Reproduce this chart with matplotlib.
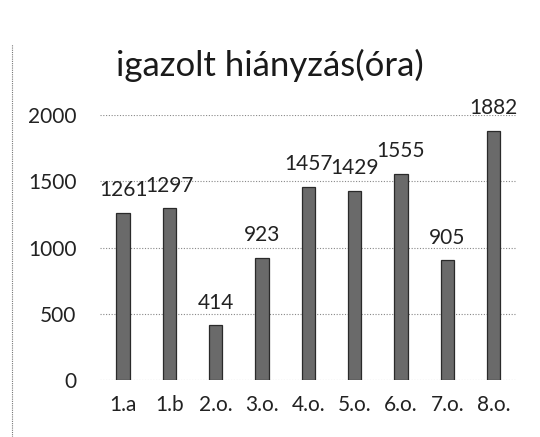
import matplotlib
matplotlib.use("Agg")
import matplotlib.pyplot as plt
from matplotlib.lines import Line2D

categories = ["1.a", "1.b", "2.o.", "3.o.", "4.o.", "5.o.", "6.o.", "7.o.", "8.o."]
values = [1261, 1297, 414, 923, 1457, 1429, 1555, 905, 1882]
yticks = [0, 500, 1000, 1500, 2000]
title = "igazolt hiányzás(óra)"

plt.rcParams['font.family'] = ['Lato', 'DejaVu Sans']

fig = plt.figure(figsize=(5.4, 4.37), dpi=100)
ax = fig.add_axes([0.185, 0.1304, 0.772, 0.6064])

x = range(len(categories))
ax.bar(x, values, width=0.29, color="#6a6a6a", edgecolor="#2a2a2a", linewidth=0.9, zorder=3)

for xi, v in zip(x, values):
    ax.annotate(str(v), (xi, v), xytext=(0, 9), textcoords="offset points",
                ha="center", va="bottom", fontsize=15, color="#222222",
                annotation_clip=False)

ax.set_xlim(-0.5, len(categories) - 0.5)
ax.set_ylim(0, 2000)
ax.set_yticks(yticks)
ax.set_xticks(list(x))
ax.set_xticklabels(categories)
ax.grid(axis="y", linestyle=(0, (1, 1.5)), color="#888888", linewidth=0.8, zorder=0)
ax.tick_params(axis="both", length=0, labelsize=15, colors="#222222")
ax.tick_params(axis="y", pad=17)
ax.tick_params(axis="x", pad=11)
for sp in ax.spines.values():
    sp.set_visible(False)

fig.text(0.5, 1 - 65 / 437, title, ha="center", va="center", fontsize=25, color="#1a1a1a")

# dotted frame edge on the left
fig.add_artist(Line2D([0.023, 0.023], [0.0, 0.9], transform=fig.transFigure,
                      color="#777777", linestyle=(0, (1, 1)), linewidth=0.8))

fig.savefig("out.png", dpi=100)
